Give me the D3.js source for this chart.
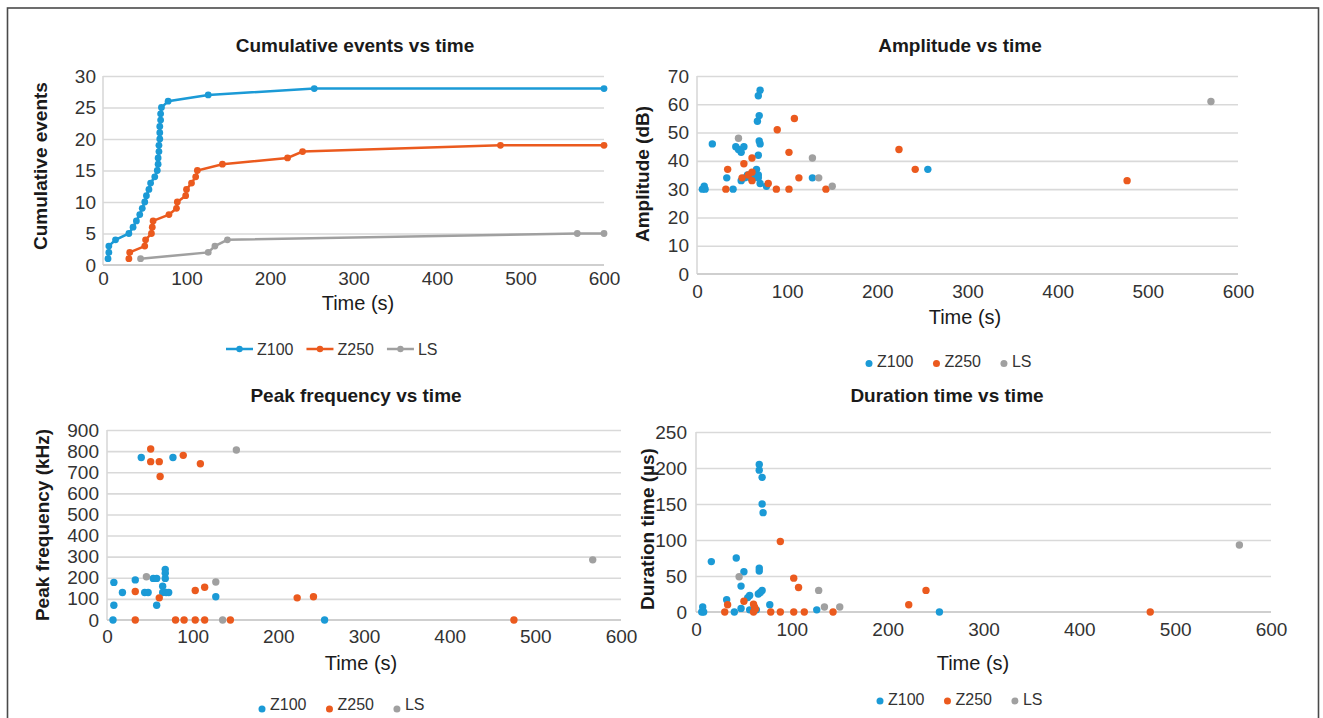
<!DOCTYPE html>
<html><head><meta charset="utf-8">
<script src="https://cdn.jsdelivr.net/npm/d3@7"></script>
<style>
html,body{margin:0;padding:0;background:#fff;}
svg{display:block;}
text{font-family:"Liberation Sans", Arial, sans-serif;}
</style></head><body>
<svg id="chart" width="1323" height="718"></svg>
<script>
// ---------- DATA ----------
const seriesNames = ["Z100", "Z250", "LS"];
const timeTicks = [0, 100, 200, 300, 400, 500, 600];
const cumTicks = [0, 5, 10, 15, 20, 25, 30];
const ampTicks = [0, 10, 20, 30, 40, 50, 60, 70];
const freqTicks = [0, 100, 200, 300, 400, 500, 600, 700, 800, 900];
const durTicks = [0, 50, 100, 150, 200, 250];

// Cumulative events vs time
const cumZ100Time  = [6,7,7,15,31,36,40,44,47,50,52,55,57,62,65,66,66,67,67,68,68,68,69,69,70,78,126,253,600];
const cumZ100Count = [1,2,3,4,5,6,7,8,9,10,11,12,13,14,15,16,17,18,19,20,21,22,23,24,25,26,27,28,28];
const cumZ250Time  = [31,32,50,51,58,59,60,79,88,89,99,100,106,111,113,143,221,239,476,600];
const cumZ250Count = [1,2,3,4,5,6,7,8,9,10,11,12,13,14,15,16,17,18,19,19];
const cumLSTime    = [45,126,134,149,568,600];
const cumLSCount   = [1,2,3,4,5,5];

// Amplitude vs time
const ampZ100Time  = [6,8,9,17,33,40,43,46,49,52,49,53,56,59,63,66,70,68,68,68,69,70,67,69,68,70,77,128,256];
const ampZ100Value = [30,31,30,46,34,30,45,44,43,45,33,34,35,34,34,37,32,35,34,42,47,46,54,56,63,65,31,34,37];
const ampZ250Time  = [32,34,50,52,57,61,61,61,79,88,89,102,102,108,113,143,224,242,477];
const ampZ250Value = [30,37,34,39,35,41,36,33,32,30,51,43,30,55,34,30,44,37,33];
const ampLSTime    = [46,128,135,150,570];
const ampLSValue   = [48,41,34,31,61];

// Peak frequency vs time
const freqZ100Time  = [7,8,8,18,33,40,44,48,54,58,58,65,65,68,68,68,69,72,77,127,254];
const freqZ100Value = [0,70,178,130,190,770,130,130,197,197,70,160,130,240,222,197,130,130,770,110,0];
const freqZ250Time  = [33,33,51,51,61,61,62,80,89,90,103,103,109,114,114,144,222,241,475];
const freqZ250Value = [0,135,810,750,750,105,680,0,780,0,0,140,740,0,155,0,105,110,0];
const freqLSTime    = [46,127,135,151,567];
const freqLSValue   = [205,180,0,805,285];

// Duration time vs time
const durZ100Time  = [6,7,8,16,32,40,42,47,47,50,54,56,56,63,65,66,66,67,69,66,66,69,69,70,77,126,254];
const durZ100Value = [0,7,0,70,17,0,75,36,5,56,20,23,3,3,25,61,57,27,30,205,197,187,150,138,10,3,0];
const durZ250Time  = [30,33,50,60,60,61,62,78,88,88,102,102,107,113,143,222,240,474];
const durZ250Value = [0,10,15,0,11,7,4,0,0,98,0,47,34,0,0,10,30,0];
const durLSTime    = [45,128,134,150,567];
const durLSValue   = [49,30,7,7,93];

// ---------- STYLE ----------
const colors = {Z100: "#1b9ad6", Z250: "#eb5a1e", LS: "#a0a0a0"};
const gridColor = "#d9d9d9";
const tickFont = 19;

const svg = d3.select("#chart");
svg.append("rect").attr("x", 7.5).attr("y", 8).attr("width", 1311).attr("height", 730)
  .attr("fill", "none").attr("stroke", "#4a4a4a").attr("stroke-width", 1.6);

function zip(t, v) { return t.map((d, i) => ({t: d, v: v[i]})); }

function makePanel(cfg) {
  const x = d3.scaleLinear().domain([0, 600]).range([cfg.x0, cfg.x1]);
  const y = d3.scaleLinear().domain([0, cfg.yTicks[cfg.yTicks.length - 1]]).range([cfg.yb, cfg.yt]);
  const g = svg.append("g");

  const grid = g.append("g").attr("transform", `translate(${cfg.x0},0)`)
    .call(d3.axisLeft(y).tickValues(cfg.yTicks.slice(1)).tickSize(-(cfg.x1 - cfg.x0)).tickFormat(""));
  grid.select(".domain").remove();
  grid.selectAll("line").attr("stroke", gridColor).attr("stroke-width", 1.6);

  g.append("line").attr("x1", cfg.x0).attr("x2", cfg.x0).attr("y1", cfg.yb).attr("y2", cfg.yt)
    .attr("stroke", gridColor).attr("stroke-width", 1.6);
  g.append("line").attr("x1", cfg.x0).attr("x2", cfg.x1).attr("y1", cfg.yb).attr("y2", cfg.yb)
    .attr("stroke", "#cfcfcf").attr("stroke-width", 2);

  const ya = g.append("g").attr("transform", `translate(${cfg.x0},0)`)
    .call(d3.axisLeft(y).tickValues(cfg.yTicks).tickSize(0).tickPadding(cfg.yPad));
  ya.select(".domain").remove();
  ya.selectAll("text").attr("font-size", tickFont).attr("fill", "#333")
    .attr("font-family", "Liberation Sans, Arial, sans-serif");

  const xa = g.append("g").attr("transform", `translate(0,${cfg.yb})`)
    .call(d3.axisBottom(x).tickValues(timeTicks).tickSize(0).tickPadding(cfg.xPad));
  xa.select(".domain").remove();
  xa.selectAll("text").attr("font-size", tickFont).attr("fill", "#333")
    .attr("font-family", "Liberation Sans, Arial, sans-serif");

  g.append("text").attr("x", cfg.titleX).attr("y", cfg.titleY).attr("text-anchor", "middle")
    .attr("dominant-baseline", "central").attr("font-size", 19).attr("font-weight", "bold")
    .attr("fill", "#1a1a1a").text(cfg.title);
  g.append("text").attr("x", cfg.xtX).attr("y", cfg.xtY).attr("text-anchor", "middle")
    .attr("dominant-baseline", "central").attr("font-size", 20).attr("fill", "#1a1a1a").text("Time (s)");
  g.append("text").attr("transform", `translate(${cfg.ytX},${cfg.ytY}) rotate(-90)`)
    .attr("text-anchor", "middle").attr("dominant-baseline", "central")
    .attr("font-size", 19).attr("font-weight", "bold").attr("fill", "#1a1a1a").text(cfg.yTitle);

  return {g, x, y};
}

function legendLines(g, x0, yc) {
  let cx = x0;
  seriesNames.forEach(n => {
    g.append("line").attr("x1", cx).attr("x2", cx + 27).attr("y1", yc).attr("y2", yc)
      .attr("stroke", colors[n]).attr("stroke-width", 2.5);
    g.append("circle").attr("cx", cx + 13.5).attr("cy", yc).attr("r", 3.2).attr("fill", colors[n]);
    const t = g.append("text").attr("x", cx + 31).attr("y", yc).attr("dominant-baseline", "central")
      .attr("font-size", 16).attr("fill", "#333").text(n);
    cx = cx + 31 + t.node().getComputedTextLength() + 13;
  });
}

function legendDots(g, x0, yDot, yText) {
  let cx = x0;
  seriesNames.forEach(n => {
    g.append("circle").attr("cx", cx).attr("cy", yDot).attr("r", 3.5).attr("fill", colors[n]);
    const t = g.append("text").attr("x", cx + 8).attr("y", yText).attr("dominant-baseline", "central")
      .attr("font-size", 16).attr("fill", "#333").text(n);
    cx = cx + 8 + t.node().getComputedTextLength() + 23;
  });
}

function scatter(p, data, name) {
  p.g.append("g").selectAll("circle").data(data).join("circle")
    .attr("cx", d => p.x(d.t)).attr("cy", d => p.y(d.v)).attr("r", 3.7)
    .attr("fill", colors[name]);
}

// ---------- Panel 1: cumulative ----------
const p1 = makePanel({x0: 103, x1: 604, yb: 265, yt: 76, yTicks: cumTicks, yPad: 7, xPad: 7,
  title: "Cumulative events vs time", titleX: 355, titleY: 45, xtX: 358, xtY: 303,
  ytX: 40, ytY: 166, yTitle: "Cumulative events"});
[[cumZ100Time, cumZ100Count, "Z100"], [cumZ250Time, cumZ250Count, "Z250"], [cumLSTime, cumLSCount, "LS"]]
  .forEach(([t, v, n]) => {
    const data = zip(t, v);
    p1.g.append("path").datum(data)
      .attr("d", d3.line().x(d => p1.x(d.t)).y(d => p1.y(d.v)))
      .attr("fill", "none").attr("stroke", colors[n]).attr("stroke-width", 2.5);
    p1.g.append("g").selectAll("circle").data(data).join("circle")
      .attr("cx", d => p1.x(d.t)).attr("cy", d => p1.y(d.v)).attr("r", 3.4).attr("fill", colors[n]);
  });
legendLines(p1.g, 226, 349);

// ---------- Panel 2: amplitude ----------
const p2 = makePanel({x0: 697, x1: 1238, yb: 274, yt: 76, yTicks: ampTicks, yPad: 8, xPad: 11,
  title: "Amplitude vs time", titleX: 960, titleY: 45, xtX: 965, xtY: 317,
  ytX: 642, ytY: 174, yTitle: "Amplitude (dB)"});
scatter(p2, zip(ampZ100Time, ampZ100Value), "Z100");
scatter(p2, zip(ampZ250Time, ampZ250Value), "Z250");
scatter(p2, zip(ampLSTime, ampLSValue), "LS");
legendDots(p2.g, 869, 363.5, 361.5);

// ---------- Panel 3: peak frequency ----------
const p3 = makePanel({x0: 107, x1: 621, yb: 620, yt: 430, yTicks: freqTicks, yPad: 8, xPad: 10,
  title: "Peak frequency vs time", titleX: 356, titleY: 395, xtX: 361, xtY: 663,
  ytX: 42, ytY: 525, yTitle: "Peak frequency (kHz)"});
scatter(p3, zip(freqZ100Time, freqZ100Value), "Z100");
scatter(p3, zip(freqZ250Time, freqZ250Value), "Z250");
scatter(p3, zip(freqLSTime, freqLSValue), "LS");
legendDots(p3.g, 262, 709, 704);

// ---------- Panel 4: duration ----------
const p4 = makePanel({x0: 696, x1: 1271, yb: 612, yt: 432, yTicks: durTicks, yPad: 9, xPad: 11,
  title: "Duration time vs time", titleX: 947, titleY: 395, xtX: 973, xtY: 663,
  ytX: 647, ytY: 529, yTitle: "Duration time (µs)"});
scatter(p4, zip(durZ100Time, durZ100Value), "Z100");
scatter(p4, zip(durZ250Time, durZ250Value), "Z250");
scatter(p4, zip(durLSTime, durLSValue), "LS");
legendDots(p4.g, 880, 701, 699);
</script>
</body></html>
